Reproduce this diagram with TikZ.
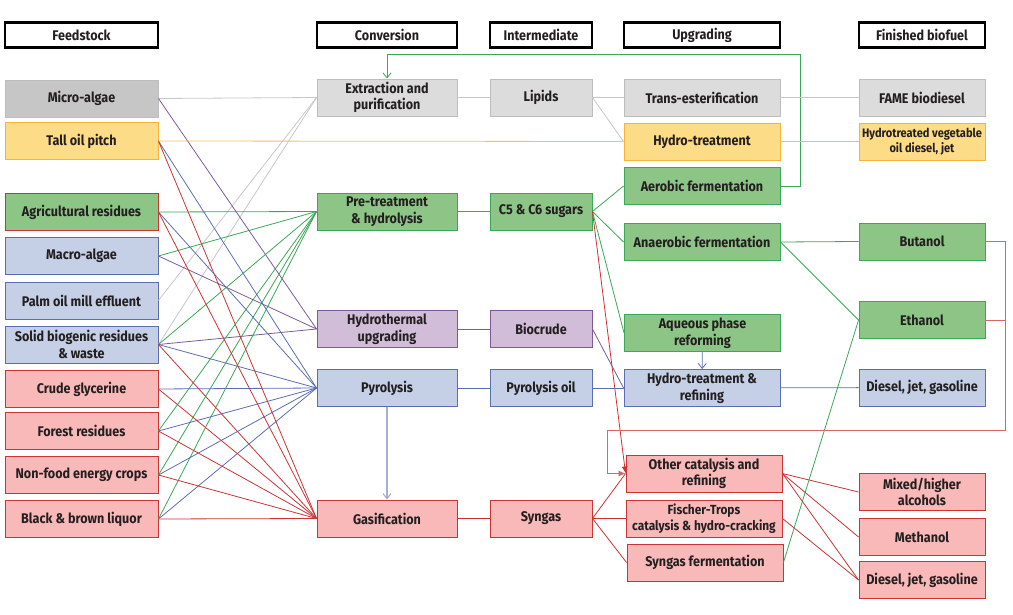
\documentclass[tikz,border=0pt]{standalone}
\usepackage{fontspec}
\setmainfont{Fira Sans}[FakeStretch=0.9]
\usetikzlibrary{arrows.meta}

\definecolor{txt}{HTML}{231F20}
\definecolor{grayfill}{HTML}{DCDCDC}
\definecolor{grayfillb}{HTML}{C6C6C6}
\definecolor{graydraw}{HTML}{BDBDBD}
\definecolor{yelfill}{HTML}{FDDC88}
\definecolor{yeldraw}{HTML}{F6B43C}
\definecolor{grnfill}{HTML}{8CC585}
\definecolor{grndraw}{HTML}{3AA857}
\definecolor{blufill}{HTML}{C5CFE6}
\definecolor{bludraw}{HTML}{5B6EB0}
\definecolor{pnkfill}{HTML}{F9B9B9}
\definecolor{pnkdraw}{HTML}{CC3333}
\definecolor{purfill}{HTML}{D2BDD8}
\definecolor{purdraw}{HTML}{7E5A9B}

\tikzset{
  box/.style={rectangle, draw, line width=0.9pt, minimum height=37pt, inner sep=1pt,
    align=center, text=txt, font=\fontsize{14}{16.5}\selectfont\bfseries},
  feed/.style={box, minimum width=153pt},
  conv/.style={box, minimum width=140pt},
  inter/.style={box, minimum width=102pt},
  upg/.style={box, minimum width=156pt},
  fin/.style={box, minimum width=126pt},
  head/.style={rectangle, draw=black, line width=2.2pt, minimum height=25pt,
    text=txt, font=\fontsize{14}{15}\selectfont\bfseries},
  grey/.style={fill=grayfill, draw=graydraw},
  yel/.style={fill=yelfill, draw=yeldraw},
  grn/.style={fill=grnfill, draw=grndraw},
  blu/.style={fill=blufill, draw=bludraw},
  pnk/.style={fill=pnkfill, draw=pnkdraw},
  pur/.style={fill=purfill, draw=purdraw},
  % connectors
  ln/.style={line width=0.8pt},
  greyln/.style={ln, draw=graydraw!85},
  yelln/.style={ln, draw=yeldraw!85},
  grnln/.style={ln, draw=grndraw},
  bluln/.style={ln, draw=bludraw},
  pnkln/.style={ln, draw=pnkdraw},
  purln/.style={ln, draw=purdraw},
  openarr/.style={-{Straight Barb[length=5pt,width=8pt]}},
  fillarr/.style={-{Latex[length=7pt,width=6pt]}}
}

\begin{document}
\begin{tikzpicture}[x=1pt,y=-1pt]
\useasboundingbox (0,0) rectangle (1013,615);

% column heads
\node[head, minimum width=153pt] (hfeed) at (81.5,35) {Feedstock};
\node[head, minimum width=140pt] (hconv) at (387,35) {Conversion};
\node[head, minimum width=102pt] (hinter) at (541,35) {Intermediate};
\node[head, minimum width=156pt] (hupg) at (702,35) {Upgrading};
\node[head, minimum width=126pt] (hfin) at (922,35) {Finished biofuel};

% feedstock
\node[feed, fill=grayfillb, draw=graydraw] (micro) at (81.5,98.5) {Micro-algae};
\node[feed, yel] (tall) at (81.5,141) {Tall oil pitch};
\node[feed, fill=grnfill, draw=pnkdraw] (agri) at (81.5,212) {Agricultural residues};
\node[feed, blu] (macro) at (81.5,256) {Macro-algae};
\node[feed, blu] (palm) at (81.5,300.5) {Palm oil mill effluent};
\node[feed, blu] (solid) at (81.5,344.5) {Solid biogenic residues\\\& waste};
\node[feed, pnk] (crude) at (81.5,389) {Crude glycerine};
\node[feed, pnk] (forest) at (81.5,431) {Forest residues};
\node[feed, pnk] (nonfood) at (81.5,475) {Non-food energy crops};
\node[feed, pnk] (black) at (81.5,519) {Black \& brown liquor};

% conversion
\node[conv, grey] (extract) at (387,97.5) {Extraction and\\purification};
\node[conv, grn] (pretreat) at (387,211.5) {Pre-treatment\\\& hydrolysis};
\node[conv, pur] (hydrotherm) at (387,329) {Hydrothermal\\upgrading};
\node[conv, blu] (pyro) at (387,388) {Pyrolysis};
\node[conv, pnk] (gasif) at (387,518.5) {Gasification};

% intermediate
\node[inter, grey] (lipids) at (541,97.5) {Lipids};
\node[inter, grn] (sugars) at (541,211.5) {C5 \& C6 sugars};
\node[inter, pur] (biocrude) at (541,329) {Biocrude};
\node[inter, blu] (pyrooil) at (541,388) {Pyrolysis oil};
\node[inter, pnk] (syngas) at (541,518.5) {Syngas};

% upgrading
\node[upg, grey] (transest) at (702,97.5) {Trans-esterification};
\node[upg, yel] (hydrotr) at (702,141.5) {Hydro-treatment};
\node[upg, grn] (aerob) at (702,186) {Aerobic fermentation};
\node[upg, grn] (anaerob) at (702,242) {Anaerobic fermentation};
\node[upg, grn] (aqueous) at (702.5,333) {Aqueous phase\\reforming};
\node[upg, blu] (htrefine) at (702,388) {Hydro-treatment \&\\refining};
\node[upg, pnk] (othercat) at (704,473.5) {Other catalysis and\\refining};
\node[upg, pnk, font=\fontsize{13.2}{15.5}\selectfont\bfseries] (fischer) at (704,518.5) {Fischer-Trops\\catalysis \& hydro-cracking};
\node[upg, pnk] (synferm) at (705,562.5) {Syngas fermentation};

% finished biofuel
\node[fin, grey] (fame) at (922,97.5) {FAME biodiesel};
\node[fin, yel, font=\fontsize{12.3}{15}\selectfont\bfseries] (hvo) at (922,141.5) {Hydrotreated vegetable\\oil diesel, jet};
\node[fin, grn] (butanol) at (922,241.5) {Butanol};
\node[fin, grn] (ethanol) at (922,320) {Ethanol};
\node[fin, blu] (fuelblu) at (922,387.5) {Diesel, jet, gasoline};
\node[fin, pnk] (mixed) at (922,492) {Mixed/higher\\alcohols};
\node[fin, pnk] (methanol) at (922,537) {Methanol};
\node[fin, pnk] (fuelpnk) at (922,580) {Diesel, jet, gasoline};

% feedstock to conversion
\foreach \s in {micro,palm,solid} \draw[greyln] (\s.east) -- (extract.west);
\foreach \s in {agri,macro,solid,forest,nonfood,black} \draw[grnln] (\s.east) -- (pretreat.west);
\foreach \s in {micro,macro,solid} \draw[purln] (\s.east) -- (hydrotherm.west);
\foreach \s in {tall,agri,solid,crude,forest,nonfood,black} \draw[bluln] (\s.east) -- (pyro.west);
\foreach \s in {tall,agri,solid,crude,forest,nonfood,black} \draw[pnkln] (\s.east) -- (gasif.west);
\draw[yelln] (tall.east) -- (hydrotr.west);

% conversion to intermediate
\draw[greyln] (extract) -- (lipids);
\draw[grnln] (pretreat) -- (sugars);
\draw[purln] (hydrotherm) -- (biocrude);
\draw[bluln] (pyro) -- (pyrooil);
\draw[pnkln] (gasif) -- (syngas);
\draw[bluln, draw=bludraw!55, line width=1.2pt, openarr] (pyro) -- (gasif);

% intermediate to upgrading
\draw[greyln] (lipids.east) -- (transest.west);
\draw[greyln] (lipids.east) -- (hydrotr.west);
\foreach \t in {aerob,anaerob,aqueous} \draw[grnln] (sugars.east) -- (\t.west);
\draw[pnkln, fillarr] (sugars.east) -- (othercat.west);
\draw[purln] (biocrude.east) -- (htrefine.west);
\draw[bluln] (pyrooil) -- (htrefine);
\foreach \t in {othercat,fischer,synferm} \draw[pnkln] (syngas.east) -- (\t.west);
\draw[bluln, openarr] (aqueous) -- (htrefine);

% aerobic loop back to extraction
\coordinate (gloop) at (800,54);
\draw[grnln, openarr] (aerob.east) -| (gloop) -| (extract.north);

% upgrading to finished
\draw[greyln] (transest) -- (fame);
\draw[yelln] (hydrotr) -- (hvo);
\draw[grnln] (anaerob.east) -- (butanol.west);
\draw[grnln] (anaerob.east) -- (ethanol.west);
\draw[grnln] (synferm.east) -- (ethanol.west);
\draw[bluln] (htrefine) -- (fuelblu);
\foreach \t in {mixed,methanol,fuelpnk} \draw[pnkln] (othercat.east) -- (\t.west);
\draw[pnkln] (fischer.east) -- (fuelpnk.west);

% alcohols loop back to other catalysis
\coordinate (rloop) at (1005,430);
\coordinate (rloopl) at (607,430);
\draw[pnkln, draw=pnkdraw!75] (butanol.east) -| (rloop) -- (rloopl);
\draw[pnkln, draw=pnkdraw!75] (ethanol.east) -- (ethanol.east -| rloop);
\draw[pnkln, draw=pnkdraw!75, fillarr] (rloopl) |- (othercat.west);
\end{tikzpicture}
\end{document}
